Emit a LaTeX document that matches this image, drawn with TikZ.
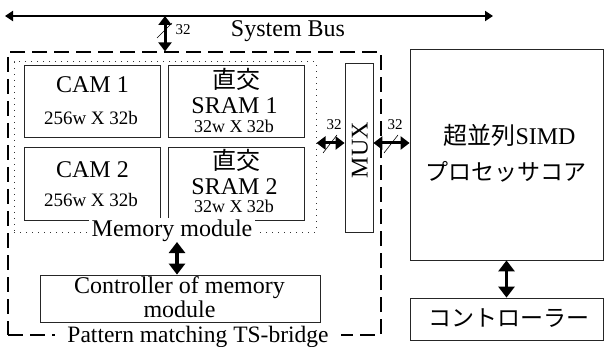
\documentclass[tikz,border=0pt]{standalone}
\usepackage{fontspec}
\setmainfont{Liberation Serif}
\newfontfamily\jp{Noto Sans CJK JP}
\usetikzlibrary{arrows.meta}
\newcommand{\fsz}[1]{\fontsize{#1}{#1}\selectfont}
\begin{document}
\begin{tikzpicture}[x=1pt,y=-1pt,
  boxst/.style={draw=black!85,line width=0.8pt,inner sep=0pt},
  txt/.style={inner sep=0pt,font=\fsz{24}},
  small/.style={inner sep=0pt,font=\fsz{19}},
  tiny/.style={inner sep=0pt,font=\fsz{15}},
  busarr/.style={line width=2pt,{Triangle[length=8pt,width=10pt]}-{Triangle[length=8pt,width=10pt]}},
  bigarr/.style={line width=3.5pt,{Triangle[length=11pt,width=16pt]}-{Triangle[length=11pt,width=16pt]}},
  midarr/.style={line width=3pt,{Triangle[length=9pt,width=13pt]}-{Triangle[length=9pt,width=13pt]}},
  slash/.style={line width=0.6pt}]
\useasboundingbox (0,0) rectangle (604,347);
% outer dashed box
\node[draw=black,line width=1.2pt,dash pattern=on 15pt off 7pt,inner sep=0pt,
  minimum width=373pt,minimum height=283pt] (ts) at (194.5,193.5) {};
\node[txt,font=\fsz{23.5},anchor=base,fill=white,inner xsep=12pt,inner ysep=0pt] (tsl) at (198,342) {Pattern matching TS-bridge};
% memory module dotted box
\node[draw=black!80,line width=1pt,dash pattern=on 1pt off 5pt,inner sep=0pt,
  minimum width=302pt,minimum height=170pt] (mm) at (165,147) {};
% boxes
\node[boxst,minimum width=136pt,minimum height=72pt] (cam1) at (92,101) {};
\node[boxst,minimum width=136pt,minimum height=72pt] (sram1) at (236,101) {};
\node[boxst,minimum width=136pt,minimum height=73pt] (cam2) at (92,183.5) {};
\node[boxst,minimum width=136pt,minimum height=73pt] (sram2) at (236,183.5) {};
\node[boxst,minimum width=28pt,minimum height=169pt] (mux) at (359,147.5) {};
\node[boxst,minimum width=193pt,minimum height=211pt] (simd) at (506.5,154.5) {};
\node[boxst,minimum width=193pt,minimum height=42pt] (ctrl) at (506.5,319) {};
\node[boxst,minimum width=280pt,minimum height=47pt] (memctrl) at (180,298.5) {};
% texts
\node[txt,anchor=base] (c1a) at (92.5,93) {CAM 1};
\node[small,anchor=base] (c1b) at (91,125) {256w X 32b};
\node[txt,anchor=base] (c2a) at (92.5,178) {CAM 2};
\node[small,anchor=base] (c2b) at (91,207) {256w X 32b};
\node[txt,font=\fsz{24}\jp] (s1a) at (236,79) {直交};
\node[txt,anchor=base] (s1b) at (234.5,114) {SRAM 1};
\node[tiny,font=\fsz{18},anchor=base] (s1c) at (234,133) {32w X 32b};
\node[txt,font=\fsz{24}\jp] (s2a) at (236,160) {直交};
\node[txt,anchor=base] (s2b) at (234.5,195) {SRAM 2};
\node[tiny,font=\fsz{18},anchor=base] (s2c) at (234,213) {32w X 32b};
\node[txt,rotate=90] (muxt) at (360,150) {MUX};
\node[txt,anchor=base] (simd1) at (509.5,145) {{\jp 超並列}SIMD};
\node[txt,font=\fsz{23}\jp] (simd2) at (506,172) {プロセッサコア};
\node[txt,font=\fsz{23}\jp] (ctrlt) at (509,318) {コントローラー};
\node[txt,align=center,anchor=base] (mc1) at (179.5,293) {Controller of memory};
\node[txt,anchor=base] (mc2) at (179.5,317) {module};
\node[txt,anchor=base,fill=white,inner xsep=3pt,inner ysep=1pt] (mml) at (172,236) {Memory module};
\node[txt,anchor=base] (busl) at (288,37) {System Bus};
% system bus
\coordinate (busL) at (5,16);
\coordinate (busR) at (493,16);
\coordinate (busT) at (165,16);
\draw[busarr] (busL) -- (busR);
\draw[midarr] (busT) -- (busT |- ts.north);
\draw[slash] (157,38) -- (172,23);
\node[tiny] (n32a) at (183,30) {32};
% mux arrows
\coordinate (ay) at (330,143);
\draw[midarr] (mm.east |- ay) -- (mux.west |- ay);
\draw[midarr] (mux.east |- ay) -- (simd.west |- ay);
\draw[slash] (323,153) -- (337,135);
\draw[slash] (384,153) -- (398,135);
\node[tiny] (n32b) at (334,125) {32};
\node[tiny] (n32c) at (395,125) {32};
% vertical arrows
\coordinate (mmb) at (177,242);
\draw[bigarr] (mmb) -- (mmb |- memctrl.north);
\draw[bigarr] (simd.south) -- (ctrl.north);
\end{tikzpicture}
\end{document}
